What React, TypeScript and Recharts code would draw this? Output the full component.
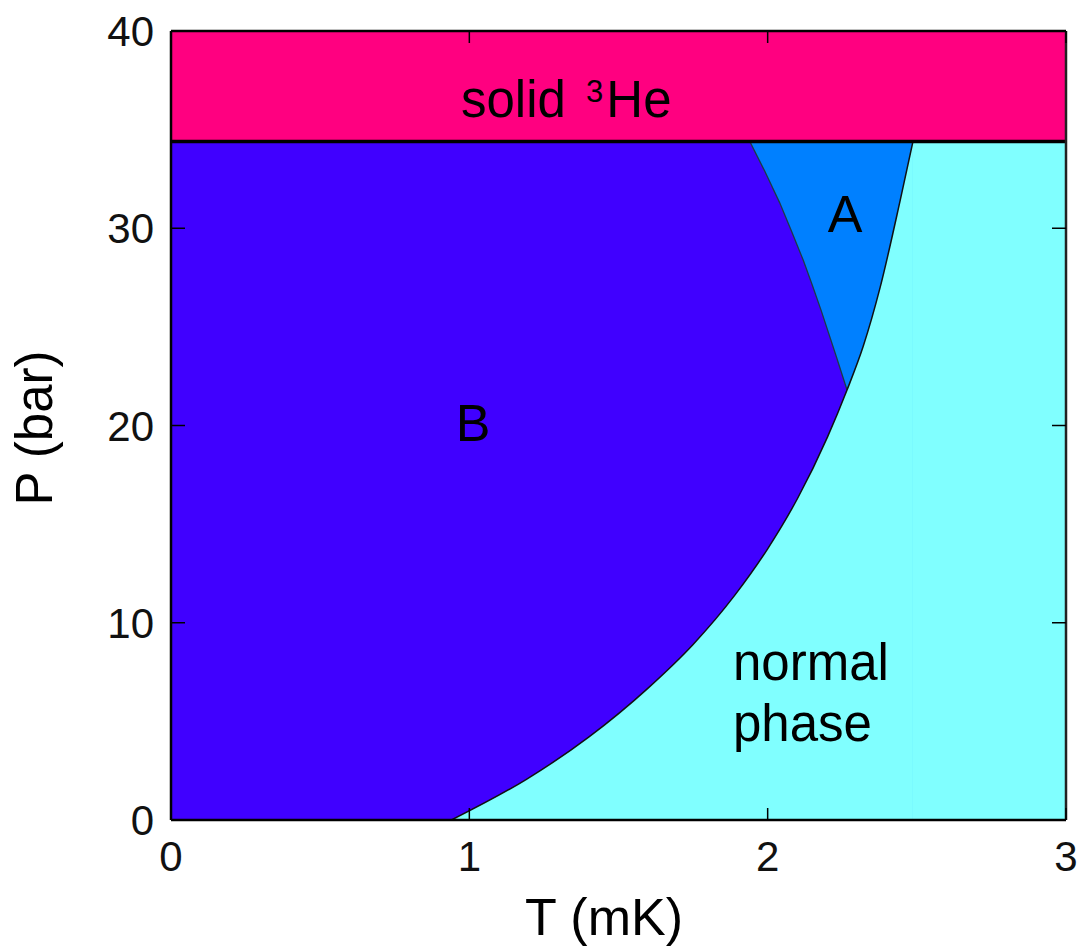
import React from 'react';
import { ComposedChart, Area, Line, XAxis, YAxis } from 'recharts';

const FONT = '"Liberation Sans", Arial, Helvetica, sans-serif';

// axis ticks
const T_TICKS = [0, 1, 2, 3];
const P_TICKS = [0, 10, 20, 30, 40];
const T_DOMAIN = [0, 3];
const P_DOMAIN = [0, 40];

// melting pressure (solid 3He boundary) and top of plot
const P_MELT = 34.4;
const P_MAX = 40;

// solid 3He band
const solidBand = [
  { T: 0, range: [P_MELT, P_MAX] },
  { T: 3, range: [P_MELT, P_MAX] },
];

// superfluid background (A phase colour) below the melting line
const superfluidBand = [
  { T: 0, P: P_MELT },
  { T: 3, P: P_MELT },
];

// B phase upper boundary: melting line, then A-B transition line down to the PCP
const bPhaseBoundary = [
  { T: 0, P: 34.4 },
  { T: 1.94, P: 34.4 },
  { T: 1.99, P: 32.9 },
  { T: 2.04, P: 31.3 },
  { T: 2.08, P: 29.85 },
  { T: 2.12, P: 28.35 },
  { T: 2.15, P: 27.1 },
  { T: 2.18, P: 25.8 },
  { T: 2.23, P: 23.5 },
  { T: 2.266, P: 21.8 },
];

// normal-superfluid transition Tc(P)
const normalBoundary = [
  { T: 0.94, P: 0 },
  { T: 1.19, P: 2.05 },
  { T: 1.4, P: 4.2 },
  { T: 1.6, P: 6.7 },
  { T: 1.75, P: 8.9 },
  { T: 1.89, P: 11.4 },
  { T: 2.0, P: 13.75 },
  { T: 2.1, P: 16.3 },
  { T: 2.2, P: 19.4 },
  { T: 2.266, P: 21.8 },
  { T: 2.32, P: 24.0 },
  { T: 2.377, P: 27.0 },
  { T: 2.444, P: 31.4 },
  { T: 2.487, P: 34.4 },
];

// normal phase above Tc at the melting pressure
const normalHighT = [
  { T: 2.487, P: P_MELT },
  { T: 3, P: P_MELT },
];

const meltingLine = [
  { T: 0, P: P_MELT },
  { T: 3, P: P_MELT },
];

const COLORS = {
  solid: '#FF0080',
  aPhase: '#0080FF',
  bPhase: '#4000FF',
  normal: '#80FFFF',
};

const BottomTick = (props: any) => {
  const { x, y, payload } = props;
  return (
    <g>
      <line x1={x} x2={x} y1={y} y2={y - 12} stroke="#000" strokeWidth={1.5} />
      <text x={x} y={y + 51} textAnchor="middle" fontSize={42} fontFamily={FONT} fill="#111">
        {payload.value}
      </text>
    </g>
  );
};

const TopTick = (props: any) => {
  const { x, y } = props;
  return <line x1={x} x2={x} y1={y} y2={y + 12} stroke="#000" strokeWidth={1.5} />;
};

const LeftTick = (props: any) => {
  const { x, y, payload } = props;
  return (
    <g>
      <line x1={x} x2={x + 14} y1={y} y2={y} stroke="#000" strokeWidth={1.5} />
      <text x={x - 17} y={y + 15} textAnchor="end" fontSize={42} fontFamily={FONT} fill="#111">
        {payload.value}
      </text>
    </g>
  );
};

const RightTick = (props: any) => {
  const { x, y } = props;
  return <line x1={x} x2={x - 14} y1={y} y2={y} stroke="#000" strokeWidth={1.5} />;
};

export default function App() {
  return (
    <div style={{ position: 'absolute', left: 0, top: 0, width: 1084, height: 952, background: '#fff' }}>
      <ComposedChart width={1084} height={952} margin={{ top: 0, right: 0, bottom: 0, left: 0 }}>
        <XAxis
          xAxisId="bottom"
          dataKey="T"
          type="number"
          domain={T_DOMAIN}
          ticks={T_TICKS}
          allowDataOverflow
          orientation="bottom"
          height={132}
          tickSize={0}
          tickMargin={0}
          tickLine={false}
          tick={<BottomTick />}
          axisLine={{ stroke: '#000', strokeWidth: 2.5 }}
          interval={0}
        />
        <XAxis
          xAxisId="top"
          dataKey="T"
          type="number"
          domain={T_DOMAIN}
          ticks={T_TICKS}
          allowDataOverflow
          orientation="top"
          height={31}
          tickSize={0}
          tickMargin={0}
          tickLine={false}
          tick={<TopTick />}
          axisLine={{ stroke: '#000', strokeWidth: 2.5 }}
          interval={0}
        />
        <YAxis
          yAxisId="left"
          type="number"
          domain={P_DOMAIN}
          ticks={P_TICKS}
          allowDataOverflow
          orientation="left"
          width={171}
          tickSize={0}
          tickMargin={0}
          tickLine={false}
          tick={<LeftTick />}
          axisLine={{ stroke: '#000', strokeWidth: 2.5 }}
          interval={0}
        />
        <YAxis
          yAxisId="right"
          type="number"
          domain={P_DOMAIN}
          ticks={P_TICKS}
          allowDataOverflow
          orientation="right"
          width={18}
          tickSize={0}
          tickMargin={0}
          tickLine={false}
          tick={<RightTick />}
          axisLine={{ stroke: '#222', strokeWidth: 2.5 }}
          interval={0}
        />

        <Area
          xAxisId="bottom"
          yAxisId="left"
          data={solidBand}
          dataKey="range"
          type="linear"
          fill={COLORS.solid}
          fillOpacity={1}
          stroke="none"
          isAnimationActive={false}
          activeDot={false}
        />
        <Area
          xAxisId="bottom"
          yAxisId="left"
          data={superfluidBand}
          dataKey="P"
          type="linear"
          fill={COLORS.aPhase}
          fillOpacity={1}
          stroke="none"
          isAnimationActive={false}
          activeDot={false}
        />
        <Area
          xAxisId="bottom"
          yAxisId="left"
          data={normalHighT}
          dataKey="P"
          type="linear"
          fill={COLORS.normal}
          fillOpacity={1}
          stroke="none"
          isAnimationActive={false}
          activeDot={false}
        />
        <Area
          xAxisId="bottom"
          yAxisId="left"
          data={bPhaseBoundary}
          dataKey="P"
          type="linear"
          fill={COLORS.bPhase}
          fillOpacity={1}
          stroke="#1d3b48"
          strokeWidth={1.3}
          isAnimationActive={false}
          activeDot={false}
        />
        <Area
          xAxisId="bottom"
          yAxisId="left"
          data={normalBoundary}
          dataKey="P"
          type="monotone"
          fill={COLORS.normal}
          fillOpacity={1}
          stroke="#111"
          strokeWidth={1.5}
          isAnimationActive={false}
          activeDot={false}
        />
        <Line
          xAxisId="bottom"
          yAxisId="left"
          data={meltingLine}
          dataKey="P"
          type="linear"
          stroke="#000"
          strokeWidth={3.5}
          dot={false}
          activeDot={false}
          isAnimationActive={false}
        />
      </ComposedChart>
      <svg
        width={1084}
        height={952}
        style={{ position: 'absolute', left: 0, top: 0, pointerEvents: 'none' }}
      >
        <text x={461} y={117} fontSize={51} fontFamily={FONT} fill="#000">
          solid{' '}
          <tspan fontSize={31} dy={-15} dx={6}>3</tspan>
          <tspan fontSize={51} dy={15} dx={3}>He</tspan>
        </text>
        <text x={845} y={232} fontSize={52} fontFamily={FONT} fill="#000" textAnchor="middle">A</text>
        <text x={473} y={441} fontSize={52} fontFamily={FONT} fill="#000" textAnchor="middle">B</text>
        <text x={733} y={680} fontSize={51} fontFamily={FONT} fill="#000">normal</text>
        <text x={733} y={741} fontSize={51} fontFamily={FONT} fill="#000">phase</text>
        <text x={604} y={935} fontSize={52} fontFamily={FONT} fill="#000" textAnchor="middle">T (mK)</text>
        <text
          x={52}
          y={428}
          fontSize={51}
          fontFamily={FONT}
          fill="#000"
          textAnchor="middle"
          transform="rotate(-90, 52, 428)"
        >
          P (bar)
        </text>
      </svg>
    </div>
  );
}
